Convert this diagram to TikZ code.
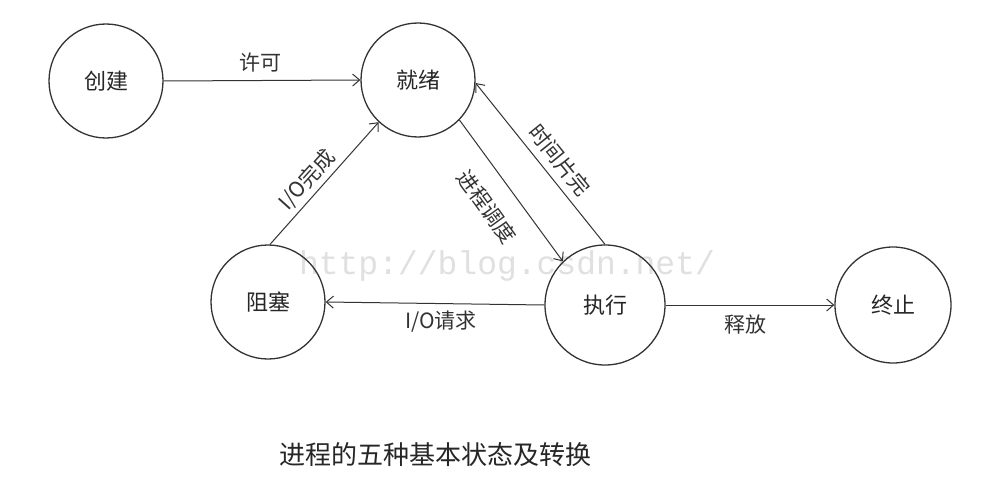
\documentclass[tikz,border=0pt]{standalone}
\usepackage{fontspec}
\newfontfamily\cjk{Noto Sans CJK SC}
\newfontfamily\wmfont{Liberation Mono}
\usetikzlibrary{arrows.meta}
\begin{document}
\begin{tikzpicture}[x=1pt,y=1pt,
  state/.style={circle,draw=black!80,line width=1.3pt,minimum size=114pt,inner sep=0pt,font=\cjk\fontsize{22}{22}\selectfont,text=black!85},
  conn/.style={draw=black!80,line width=1pt,-{Straight Barb[length=7pt,width=12pt,line width=1pt]}},
  lbl/.style={font=\cjk\fontsize{21}{21}\selectfont,text=black!80,inner sep=0pt}]
\useasboundingbox (0,0) rectangle (990,-492);
\fill[white] (0,0) rectangle (990,-492);
% watermark
\node[font=\wmfont\fontsize{33}{33}\selectfont,text=black!12,inner sep=0pt] (wm) at (507,-266) {http://blog.csdn.net/};
% states
\node[state] (cj) at (106,-81) {创建};
\node[state] (jx) at (418,-80) {就绪};
\node[state] (zs) at (268,-302) {阻塞};
\node[state,minimum size=120pt] (zx) at (605,-305) {执行};
\node[state,minimum size=116pt] (zz) at (893,-305) {终止};
% connectors
\draw[conn] (cj.east) -- (jx.west);
\draw[conn] (zs.88) -- (jx.-133);
\draw[conn] (jx.-44) -- (zx.134);
\draw[conn] (zx.90) -- (jx.-3);
\draw[conn] (zx.west) -- (zs.east);
\draw[conn] (zx.east) -- (zz.west);
% labels
\node[lbl] (l1) at (260,-63) {许可};
\node[lbl,rotate=48] (l2) at (307,-180) {I/O完成};
\node[lbl,rotate=-54] (l3) at (487,-207) {进程调度};
\node[lbl,rotate=-51] (l4) at (560,-160) {时间片完};
\node[lbl] (l5) at (441,-322) {I/O请求};
\node[lbl] (l6) at (745,-325) {释放};
% title
\node[font=\cjk\fontsize{26}{26}\selectfont,text=black!85,inner sep=0pt] (title) at (435,-455) {进程的五种基本状态及转换};
\end{tikzpicture}
\end{document}
